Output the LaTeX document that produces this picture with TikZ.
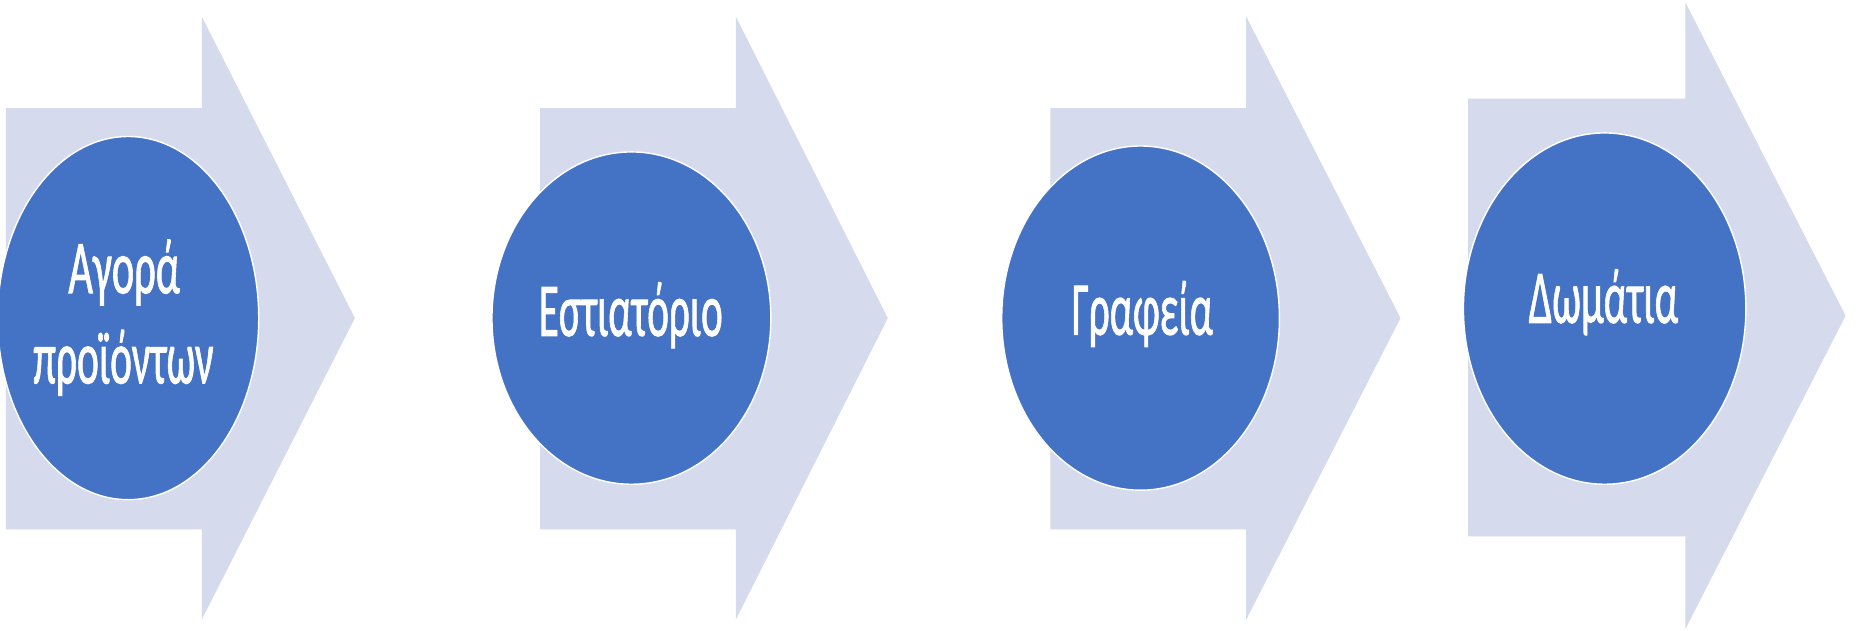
\documentclass[tikz,border=0pt]{standalone}
\usepackage{fontspec}
\newfontfamily\lblfont[FakeBold=1.4]{Carlito}
\usetikzlibrary{shapes.geometric}
\definecolor{arrowfill}{RGB}{213,218,236}
\definecolor{circfill}{RGB}{68,114,196}
\tikzset{
  bigarrow/.style={fill=arrowfill, draw=none},
  disc/.style={ellipse, fill=circfill, draw=white, line width=1.2pt, inner sep=0pt},
  lbl/.style={text=white, font=\lblfont\fontsize{64}{77}\selectfont, inner sep=0pt, anchor=base},
}
\newcommand\fitw[2]{\resizebox{#1}{\height}{#2}}
\begin{document}
\begin{tikzpicture}[x=1pt,y=-1pt]
\useasboundingbox (0,0) rectangle (1568,531);
\fill[white] (0,0) rectangle (1568,531);
\begin{scope}
\clip (0,0) rectangle (1568,531);
% arrows
\fill[bigarrow] (5,91) -- (170,91) -- (170,14) -- (299,268) -- (170,522) -- (170,446) -- (5,446) -- cycle;
\fill[bigarrow] (455,91) -- (620,91) -- (620,14) -- (748,268) -- (620,522) -- (620,446) -- (455,446) -- cycle;
\fill[bigarrow] (885,91) -- (1050,91) -- (1050,14) -- (1180,268) -- (1050,522) -- (1050,446) -- (885,446) -- cycle;
\fill[bigarrow] (1237,83) -- (1420,83) -- (1420,2) -- (1555,266) -- (1420,530) -- (1420,452) -- (1237,452) -- cycle;
% discs
\node[disc, minimum width=220pt, minimum height=306pt] (c1) at (108,268) {};
\node[disc, minimum width=235pt, minimum height=280pt] (c2) at (532,268) {};
\node[disc, minimum width=234pt, minimum height=290pt] (c3) at (961,268) {};
\node[disc, minimum width=238pt, minimum height=296pt] (c4) at (1352,260) {};
\end{scope}
% labels
\node[lbl] (t1a) at (104.6,247) {\fitw{94pt}{Αγορά}};
\node[lbl] (t1b) at (104,323) {\fitw{152pt}{προϊόντων}};
\node[lbl] (t2) at (531.5,283) {\fitw{155pt}{Εστιατόριο}};
\node[lbl] (t3) at (962.5,282) {\fitw{119pt}{Γραφεία}};
\node[lbl] (t4) at (1351,272) {\fitw{126pt}{Δωμάτια}};
\end{tikzpicture}
\end{document}
